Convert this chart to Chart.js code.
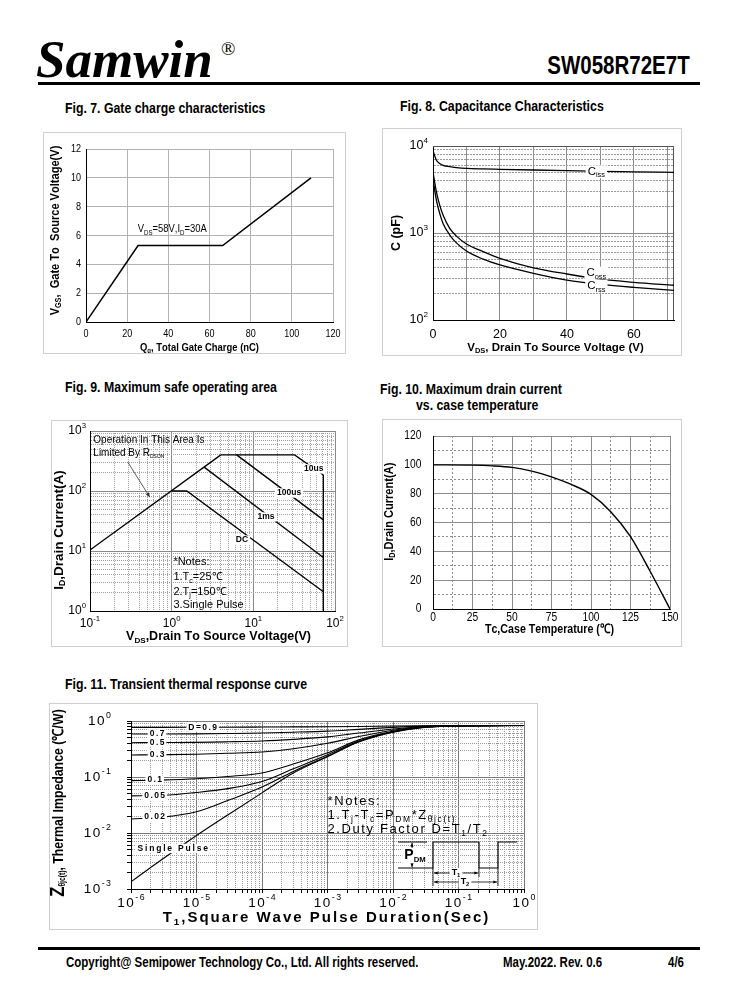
<!DOCTYPE html>
<html>
<head>
<meta charset="utf-8">
<title>SW058R72E7T</title>
<script src="https://cdn.jsdelivr.net/npm/chart.js@4.4.1/dist/chart.umd.min.js"></script>
<style>
  html, body { margin: 0; padding: 0; background: #fff; }
  body { width: 738px; height: 1000px; position: relative; overflow: hidden; color: #000;
         font-family: "Liberation Sans", Arial, sans-serif; }
  .t { position: absolute; white-space: nowrap; line-height: 1; font-weight: bold; }
  .n { transform: scaleX(0.82); transform-origin: 0 0; }
  .nr { transform: scaleX(0.82); transform-origin: 100% 0; }
  .rule { position: absolute; left: 38px; width: 662px; height: 3px; background: #000; }
  canvas { position: absolute; outline: 1px solid #cfcfcf; outline-offset: -1px; }
</style>
</head>
<body>

<div class="t" style="left:36px;top:29px;font:italic bold 53px 'Liberation Serif','Times New Roman',serif;">Samwin</div>
<div class="t" style="left:221px;top:38px;font:normal 19px 'Liberation Serif','Times New Roman',serif;">®</div>
<div class="t nr" style="right:48px;top:53px;font-size:25px;">SW058R72E7T</div>
<div class="rule" style="top:82px"></div>

<div class="t n" style="left:65px;top:100px;font-size:15px;">Fig. 7. Gate charge characteristics</div>
<div class="t n" style="left:400px;top:98px;font-size:15px;">Fig. 8. Capacitance Characteristics</div>
<div class="t n" style="left:65px;top:379px;font-size:15px;">Fig. 9. Maximum safe operating area</div>
<div class="t n" style="left:380px;top:381px;font-size:15px;">Fig. 10. Maximum drain current</div>
<div class="t n" style="left:416px;top:397px;font-size:15px;">vs. case temperature</div>
<div class="t n" style="left:65px;top:676px;font-size:15px;">Fig. 11. Transient thermal response curve</div>

<canvas id="c7" width="303" height="222" style="left:43px;top:132px"></canvas>
<canvas id="c8" width="300" height="228" style="left:382px;top:128px"></canvas>
<canvas id="c9" width="297" height="227" style="left:51px;top:420px"></canvas>
<canvas id="c10" width="300" height="228" style="left:382px;top:419px"></canvas>
<canvas id="c11" width="489" height="227" style="left:49px;top:703px"></canvas>

<div class="rule" style="top:947px"></div>
<div class="t n" style="left:66px;top:955px;font-size:14px;">Copyright@ Semipower Technology Co., Ltd. All rights reserved.</div>
<div class="t n" style="left:503px;top:955px;font-size:14px;">May.2022. Rev. 0.6</div>
<div class="t n" style="left:668px;top:955px;font-size:14px;">4/6</div>

<script>
// ---------------- data ----------------

// Fig.7 gate charge
const gateChargeNc = [0, 25.3, 66.4, 109.3];
const gateVoltage = [0, 5.3, 5.3, 10];
const gateXTicks = [0, 20, 40, 60, 80, 100, 120];
const gateYTicks = [0, 2, 4, 6, 8, 10, 12];

// Fig.8 capacitance
const capVds = [0, 1, 2, 3, 5, 7, 10, 15, 20, 30, 40, 50, 60, 72];
const capCiss = [8800, 6900, 6300, 6000, 5780, 5650, 5530, 5450, 5400, 5300, 5200, 5100, 5050, 4980];
const capCoss = [5000, 2990, 2090, 1610, 1130, 920, 748, 610, 512, 398, 338, 295, 271, 251];
const capCrss = [4200, 2400, 1680, 1290, 948, 770, 621, 500, 429, 344, 288, 257, 237, 219];
const capXTicks = [0, 10, 20, 30, 40, 50, 60, 70];
const capXLabels = ['0', '', '20', '', '40', '', '60', ''];
const capDecades = [2, 3, 4];

// Fig.9 safe operating area
const soaRdsVds = [0.1, 4];
const soaRdsId = [10.4, 400];
const soa10usVds = [4, 32, 72, 72];
const soa10usId = [400, 400, 185, 1];
const soa100usVds = [6.25, 72];
const soa100usId = [400, 33];
const soa1msVds = [2.5, 72];
const soa1msId = [250, 7.8];
const soaDcVds = [1, 1.53, 72];
const soaDcId = [100, 100, 2.1];
const soaXDecades = [-1, 0, 1, 2];
const soaYDecades = [0, 1, 2, 3];

// Fig.10 drain current vs case temperature
const caseTempC = [0, 25, 37.5, 50, 62.5, 75, 87.5, 100, 112.5, 125, 137.5, 150];
const drainCurrentA = [100, 99.8, 99.3, 98.2, 95.6, 91.7, 86.4, 79.5, 67.5, 50.2, 26, 0];
const tempTicks = [0, 12.5, 25, 37.5, 50, 62.5, 75, 87.5, 100, 112.5, 125, 137.5, 150];
const currentTicks = [0, 10, 20, 30, 40, 50, 60, 70, 80, 90, 100, 110, 120];

// Fig.11 transient thermal impedance
const pulseSec = [1e-6, 3e-6, 1e-5, 3e-5, 1e-4, 3e-4, 1e-3, 3e-3, 1e-2, 3e-2, 1e-1, 1];
const zthD09 = [0.77, 0.77, 0.772, 0.775, 0.78, 0.785, 0.79, 0.80, 0.815, 0.825, 0.83, 0.83];
const zthD07 = [0.586, 0.587, 0.59, 0.598, 0.61, 0.63, 0.66, 0.71, 0.77, 0.81, 0.825, 0.83];
const zthD05 = [0.41, 0.412, 0.415, 0.425, 0.44, 0.47, 0.52, 0.61, 0.72, 0.80, 0.825, 0.83];
const zthD03 = [0.247, 0.25, 0.255, 0.265, 0.28, 0.32, 0.40, 0.53, 0.685, 0.79, 0.82, 0.83];
const zthD01 = [0.086, 0.088, 0.093, 0.102, 0.118, 0.17, 0.27, 0.46, 0.655, 0.78, 0.82, 0.83];
const zthD005 = [0.046, 0.047, 0.053, 0.062, 0.083, 0.14, 0.25, 0.44, 0.645, 0.78, 0.82, 0.83];
const zthD002 = [0.0178, 0.0192, 0.024, 0.038, 0.066, 0.126, 0.235, 0.43, 0.64, 0.775, 0.82, 0.83];
const zthSingle = [0.00135, 0.0034, 0.009, 0.021, 0.052, 0.118, 0.23, 0.42, 0.63, 0.77, 0.82, 0.83];
const dutyNames = ['D=0.9', '0.7', '0.5', '0.3', '0.1', '0.05', '0.02'];
const dutyLabelSec = [1.24e-5, 2.5e-6, 2.5e-6, 2.5e-6, 2.3e-6, 2.3e-6, 2.3e-6];
const dutyLabelZth = [0.772, 0.587, 0.412, 0.25, 0.088, 0.047, 0.0192];
const zthXDecades = [-6, -5, -4, -3, -2, -1, 0];
const zthYDecades = [-3, -2, -1, 0];

// ---------------- helpers ----------------
const SANS = '"Liberation Sans", Arial, Helvetica, sans-serif';
const NX = 0.82; // horizontal squeeze used for the narrow lettering

Chart.defaults.font.family = SANS;
Chart.defaults.color = '#000';
Chart.defaults.animation = false;
Chart.defaults.events = [];
Chart.defaults.plugins.legend.display = false;
Chart.defaults.plugins.tooltip.enabled = false;

function isDecade(v) {
  const l = Math.log10(v);
  return Math.abs(l - Math.round(l)) < 1e-9;
}

function logTicks(decades) {
  const out = [];
  for (let i = 0; i < decades.length - 1; i++) {
    for (let m = 1; m <= 9; m++) out.push(m * Math.pow(10, decades[i]));
  }
  out.push(Math.pow(10, decades[decades.length - 1]));
  return out;
}

const logFmt = v => isDecade(v) ? ['10', [String(Math.round(Math.log10(v))), 'sup']] : null;

function pts(xs, ys) {
  return xs.map((x, i) => ({ x: x, y: ys[i] }));
}

function line(xs, ys, extra) {
  return Object.assign({ data: pts(xs, ys), borderColor: '#000', borderWidth: 1.3,
    pointRadius: 0, tension: 0, fill: false }, extra || {});
}

// text with sub/superscripts; runs: 'text' or [text, 'sub'|'sup'|'', sizeFactor]
function drawRich(ctx, runs, x, y, o) {
  o = o || {};
  const size = o.size || 11, fam = o.family || SANS, wt = o.weight || 'normal', sp = o.spacing || 0;
  const parts = runs.map(r => {
    const t = typeof r === 'string' ? r : r[0];
    const k = typeof r === 'string' ? '' : r[1];
    const s = (k === 'sub' || k === 'sup') ? size * (o.small || 0.65) : size * ((typeof r !== 'string' && r[2]) || 1);
    const dy = k === 'sub' ? size * 0.3 : (k === 'sup' ? -size * 0.4 : 0);
    return { t: t, s: s, dy: dy, w: 0 };
  });
  ctx.save();
  ctx.translate(x, y);
  if (o.rotate) ctx.rotate(o.rotate);
  if (o.sx) ctx.scale(o.sx, 1);
  ctx.textBaseline = 'middle';
  ctx.textAlign = 'left';
  let total = 0;
  parts.forEach(p => {
    ctx.font = wt + ' ' + p.s + 'px ' + fam;
    for (const ch of p.t) p.w += ctx.measureText(ch).width + sp;
    total += p.w;
  });
  total -= sp;
  let cx = o.align === 'left' ? 0 : (o.align === 'right' ? -total : -total / 2);
  if (o.bg) {
    ctx.fillStyle = o.bg;
    ctx.fillRect(cx - 2, -size * 0.55, total + 4, size * 1.1);
  }
  ctx.fillStyle = o.color || '#000';
  parts.forEach(p => {
    ctx.font = wt + ' ' + p.s + 'px ' + fam;
    for (const ch of p.t) {
      ctx.fillText(ch, cx, p.dy);
      cx += ctx.measureText(ch).width + sp;
    }
  });
  ctx.restore();
}

// tick labels placed on the library's scale pixels
function tickLabels(chart, id, o) {
  const s = chart.scales[id], a = chart.chartArea;
  s.ticks.forEach((t, i) => {
    const runs = o.fmt(t.value, i);
    if (!runs) return;
    const p = s.getPixelForValue(t.value);
    if (id === 'x') drawRich(chart.ctx, runs, p, a.bottom + o.off, Object.assign({}, o, { align: 'center' }));
    else drawRich(chart.ctx, runs, a.left - o.off, p, Object.assign({}, o, { align: 'right' }));
  });
}

function arrowHead(ctx, x, y, ang, len) {
  ctx.beginPath();
  ctx.moveTo(x, y);
  ctx.lineTo(x - len * Math.cos(ang - 0.4), y - len * Math.sin(ang - 0.4));
  ctx.lineTo(x - len * Math.cos(ang + 0.4), y - len * Math.sin(ang + 0.4));
  ctx.closePath();
  ctx.fill();
}

// axis with fixed size, custom tick list, major/minor grid
function axis(o) {
  const minor = v => !!o.isMinor && o.isMinor(v);
  return {
    type: o.type || 'linear',
    min: o.min, max: o.max,
    afterBuildTicks: s => { s.ticks = o.ticks.map(v => ({ value: v })); },
    afterFit: s => { if (o.horizontal) s.height = o.size; else s.width = o.size; },
    ticks: { display: false, autoSkip: false, maxRotation: 0, minRotation: 0 },
    grid: {
      color: c => (c.tick && minor(c.tick.value)) ? (o.minorColor || '#999') : (o.majorColor || '#888'),
      lineWidth: 1,
      drawTicks: !!o.tickLength, tickLength: o.tickLength || 0, tickColor: '#000', tickWidth: 1
    },
    border: {
      color: o.axisColor || '#000', width: 1,
      dash: c => (c.tick && minor(c.tick.value)) ? (o.minorDash || [1, 1]) : []
    }
  };
}

function decor(d) {
  return {
    id: 'decor',
    beforeDatasetsDraw(chart) {
      if (!d.frame) return;
      const a = chart.chartArea, ctx = chart.ctx;
      ctx.save();
      ctx.strokeStyle = d.frame;
      ctx.lineWidth = 1;
      ctx.beginPath();
      ctx.moveTo(a.left, Math.round(a.top) + 0.5);
      ctx.lineTo(Math.round(a.right) - 0.5, Math.round(a.top) + 0.5);
      ctx.lineTo(Math.round(a.right) - 0.5, a.bottom);
      ctx.stroke();
      ctx.restore();
    },
    afterDatasetsDraw(chart) {
      const ctx = chart.ctx, x = chart.scales.x, y = chart.scales.y;
      (d.labels || []).forEach(l => drawRich(ctx, l.runs, x.getPixelForValue(l.x), y.getPixelForValue(l.y), l.style));
      if (d.extra) d.extra(chart);
    },
    afterDraw(chart) {
      const ctx = chart.ctx, a = chart.chartArea;
      if (d.tickX) tickLabels(chart, 'x', d.tickX);
      if (d.tickY) tickLabels(chart, 'y', d.tickY);
      if (d.xTitle) drawRich(ctx, d.xTitle.runs, (a.left + a.right) / 2 + (d.xTitle.dx || 0), a.bottom + d.xTitle.dy, d.xTitle.style);
      if (d.yTitle) drawRich(ctx, d.yTitle.runs, d.yTitle.x, (a.top + a.bottom) / 2 + (d.yTitle.dy || 0),
        Object.assign({ rotate: -Math.PI / 2 }, d.yTitle.style));
    }
  };
}

// ---------------- Fig.7 ----------------
new Chart(document.getElementById('c7'), {
  type: 'line',
  data: { datasets: [line(gateChargeNc, gateVoltage, { borderWidth: 1.5 })] },
  options: {
    responsive: false,
    layout: { padding: { left: 0, top: 17, right: 13, bottom: 0 } },
    scales: {
      x: axis({ horizontal: true, min: 0, max: 120, ticks: gateXTicks, size: 32, majorColor: '#b3b3b3' }),
      y: axis({ min: 0, max: 12, ticks: gateYTicks, size: 43, majorColor: '#b3b3b3' })
    }
  },
  plugins: [decor({
    labels: [{ x: 41.9, y: 6.44, runs: ['V', ['DS', 'sub'], '=58V,I', ['D', 'sub'], '=30A'],
      style: { size: 11.5, sx: NX } }],
    tickX: { off: 12.3, size: 11, sx: NX, fmt: v => [String(v)] },
    tickY: { off: 5, size: 11, sx: NX, fmt: v => [String(v)] },
    xTitle: { runs: ['Q', ['g', 'sub'], ', Total Gate Charge (nC)'], dy: 25.5, dx: -10,
      style: { size: 11.5, weight: 'bold', sx: NX } },
    yTitle: { runs: ['V', ['GS', 'sub'], ',  Gate To  Source Voltage(V)'], x: 12, dy: -5,
      style: { size: 13.5, weight: 'bold', sx: NX } }
  })]
});

// ---------------- Fig.8 ----------------
const capSmooth = { cubicInterpolationMode: 'monotone', borderWidth: 1.3 };
new Chart(document.getElementById('c8'), {
  type: 'line',
  data: { datasets: [
    line(capVds, capCiss, capSmooth),
    line(capVds, capCoss, capSmooth),
    line(capVds, capCrss, capSmooth)
  ] },
  options: {
    responsive: false,
    layout: { padding: { left: 0, top: 18, right: 8, bottom: 0 } },
    scales: {
      x: axis({ horizontal: true, min: 0, max: 72, ticks: capXTicks, size: 36, majorColor: '#8c8c8c' }),
      y: axis({ type: 'logarithmic', min: 100, max: 10000, ticks: logTicks(capDecades), size: 51,
        isMinor: v => !isDecade(v), majorColor: '#8c8c8c', minorColor: '#9a9a9a', minorDash: [2, 1] })
    }
  },
  plugins: [decor({
    frame: '#555',
    labels: [
      { x: 48.8, y: 5060, runs: ['C', ['iss', 'sub']], style: { size: 11.5, bg: '#fff' } },
      { x: 48.8, y: 347, runs: ['C', ['oss', 'sub']], style: { size: 11.5, bg: '#fff' } },
      { x: 48.8, y: 245, runs: ['C', ['rss', 'sub']], style: { size: 11.5, bg: '#fff' } }
    ],
    tickX: { off: 15, size: 12.5, fmt: (v, i) => capXLabels[i] ? [capXLabels[i]] : null },
    tickY: { off: 5, size: 12.5, fmt: logFmt },
    xTitle: { runs: ['V', ['DS', 'sub'], ', Drain To Source Voltage (V)'], dy: 27.5, dx: 2,
      style: { size: 11.5, weight: 'bold' } },
    yTitle: { runs: ['C (pF)'], x: 14.5, dy: 0, style: { size: 12.5, weight: 'bold' } }
  })]
});

// ---------------- Fig.9 ----------------
new Chart(document.getElementById('c9'), {
  type: 'line',
  data: { datasets: [
    line(soaRdsVds, soaRdsId),
    line(soa10usVds, soa10usId),
    line(soa100usVds, soa100usId),
    line(soa1msVds, soa1msId),
    line(soaDcVds, soaDcId)
  ] },
  options: {
    responsive: false,
    layout: { padding: { left: 0, top: 11, right: 13, bottom: 0 } },
    scales: {
      x: axis({ horizontal: true, type: 'logarithmic', min: 0.1, max: 100, ticks: logTicks(soaXDecades), size: 36,
        isMinor: v => !isDecade(v), majorColor: '#8a8a8a', minorColor: '#a0a0a0', minorDash: [1, 1] }),
      y: axis({ type: 'logarithmic', min: 1, max: 1000, ticks: logTicks(soaYDecades), size: 39,
        isMinor: v => !isDecade(v), majorColor: '#8a8a8a', minorColor: '#a0a0a0', minorDash: [1, 1] })
    }
  },
  plugins: [decor({
    labels: [
      { x: 0.1098, y: 708, runs: ['Operation In This Area Is'], style: { size: 10, align: 'left' } },
      { x: 0.1098, y: 425, runs: ['Limited By R', ['DSON', 'sub']], style: { size: 10, align: 'left', small: 0.5 } },
      { x: 55, y: 233, runs: ['10us'], style: { size: 8.5, weight: 'bold', bg: '#fff' } },
      { x: 27.4, y: 92.6, runs: ['100us'], style: { size: 8.5, weight: 'bold', bg: '#fff' } },
      { x: 14.3, y: 36.9, runs: ['1ms'], style: { size: 8.5, weight: 'bold', bg: '#fff' } },
      { x: 7.26, y: 15.2, runs: ['DC'], style: { size: 8.5, weight: 'bold', bg: '#fff' } },
      { x: 1.05, y: 6.63, runs: ['*Notes:'], style: { size: 11, align: 'left' } },
      { x: 1.05, y: 3.64, runs: ['1.T', ['c', 'sub'], '=25℃'], style: { size: 11, align: 'left' } },
      { x: 1.05, y: 2.1, runs: ['2.T', ['j', 'sub'], '=150℃'], style: { size: 11, align: 'left' } },
      { x: 1.05, y: 1.26, runs: ['3.Single Pulse'], style: { size: 11, align: 'left' } }
    ],
    extra(chart) {
      const ctx = chart.ctx, x = chart.scales.x, y = chart.scales.y;
      const x1 = x.getPixelForValue(0.29), y1 = y.getPixelForValue(304);
      const x2 = x.getPixelForValue(0.54), y2 = y.getPixelForValue(79);
      ctx.save();
      ctx.strokeStyle = '#333'; ctx.fillStyle = '#333'; ctx.lineWidth = 0.8;
      ctx.beginPath(); ctx.moveTo(x1, y1); ctx.lineTo(x2, y2); ctx.stroke();
      arrowHead(ctx, x2, y2, Math.atan2(y2 - y1, x2 - x1), 5);
      ctx.restore();
    },
    tickX: { off: 12.5, size: 12, fmt: logFmt },
    tickY: { off: 4, size: 12, fmt: logFmt },
    xTitle: { runs: ['V', ['DS', 'sub'], ',Drain To Source Voltage(V)'], dy: 25.7, dx: 6,
      style: { size: 12.5, weight: 'bold' } },
    yTitle: { runs: ['I', ['D', 'sub'], ',Drain Current(A)'], x: 8, dy: 9, style: { size: 13.5, weight: 'bold' } }
  })]
});

// ---------------- Fig.10 ----------------
new Chart(document.getElementById('c10'), {
  type: 'line',
  data: { datasets: [line(caseTempC, drainCurrentA, { cubicInterpolationMode: 'monotone', borderWidth: 1.4 })] },
  options: {
    responsive: false,
    layout: { padding: { left: 0, top: 17, right: 12, bottom: 0 } },
    scales: {
      x: axis({ horizontal: true, min: 0, max: 150, ticks: tempTicks, size: 38, isMinor: v => v % 25 !== 0,
        majorColor: '#8c8c8c', minorColor: '#8c8c8c', minorDash: [2, 2] }),
      y: axis({ min: 0, max: 120, ticks: currentTicks, size: 51, isMinor: v => v % 20 !== 0,
        majorColor: '#8c8c8c', minorColor: '#8c8c8c', minorDash: [2, 2] })
    }
  },
  plugins: [decor({
    tickX: { off: 9, size: 12.5, sx: NX, fmt: v => (v % 25 === 0 ? [String(v)] : null) },
    tickY: { off: 11.6, size: 12.5, sx: NX, fmt: v => (v % 20 === 0 ? [String(v)] : null) },
    xTitle: { runs: ['Tc,Case Temperature (℃)'], dy: 20, dx: -2, style: { size: 13, weight: 'bold', sx: NX } },
    yTitle: { runs: ['I', ['D', 'sub'], ',Drain Current(A)'], x: 7, dy: -10.8,
      style: { size: 13.5, weight: 'bold', sx: NX } }
  })]
});

// ---------------- Fig.11 ----------------
const zthSmooth = { cubicInterpolationMode: 'monotone', borderWidth: 1.1 };
const zthSeries = [zthD09, zthD07, zthD05, zthD03, zthD01, zthD005, zthD002, zthSingle];
const dutyLabels = dutyNames.map((n, i) => ({
  x: dutyLabelSec[i], y: dutyLabelZth[i], runs: [n],
  style: { size: 8.5, weight: 'bold', spacing: 1.4, bg: '#fff' }
}));
dutyLabels.push({ x: 1.26e-6, y: 0.0053, runs: ['Single Pulse'],
  style: { size: 8.5, weight: 'bold', spacing: 1.8, bg: '#fff', align: 'left' } });
const noteStyle = { size: 13, spacing: 1.6, align: 'left' };
dutyLabels.push({ x: 1e-3, y: 0.0365, runs: ['*Notes:'], style: noteStyle });
dutyLabels.push({ x: 1e-3, y: 0.0205, runs: ['1.T', ['j', 'sub'], '-T', ['c', 'sub'], '=P', ['DM', 'sub'], '*Z', ['θjc(t)', 'sub']], style: noteStyle });
dutyLabels.push({ x: 1e-3, y: 0.01155, runs: ['2.Duty Factor D=T', ['1', 'sub'], '/T', ['2', 'sub']], style: noteStyle });

new Chart(document.getElementById('c11'), {
  type: 'line',
  data: { datasets: zthSeries.map(s => line(pulseSec, s, zthSmooth)) },
  options: {
    responsive: false,
    layout: { padding: { left: 0, top: 18, right: 14, bottom: 0 } },
    scales: {
      x: axis({ horizontal: true, type: 'logarithmic', min: 1e-6, max: 1, ticks: logTicks(zthXDecades), size: 41,
        tickLength: 4, isMinor: v => !isDecade(v), majorColor: '#7a7a7a', minorColor: '#999', minorDash: [1, 1] }),
      y: axis({ type: 'logarithmic', min: 1e-3, max: 1, ticks: logTicks(zthYDecades), size: 82,
        tickLength: 4, isMinor: v => !isDecade(v), majorColor: '#7a7a7a', minorColor: '#999', minorDash: [1, 1] })
    }
  },
  plugins: [decor({
    labels: dutyLabels,
    extra(chart) {
      // P_DM pulse sketch inset
      const ctx = chart.ctx, a = chart.chartArea;
      const X = v => a.left + v, Y = v => a.top + v;
      ctx.save();
      ctx.strokeStyle = '#000'; ctx.fillStyle = '#000'; ctx.lineWidth = 1.2;
      ctx.beginPath();
      ctx.moveTo(X(267), Y(147)); ctx.lineTo(X(302), Y(147)); ctx.lineTo(X(302), Y(121));
      ctx.lineTo(X(348), Y(121)); ctx.lineTo(X(348), Y(147)); ctx.lineTo(X(367), Y(147));
      ctx.lineTo(X(367), Y(121)); ctx.lineTo(X(386), Y(121));
      ctx.moveTo(X(267), Y(121)); ctx.lineTo(X(296), Y(121));
      ctx.stroke();
      ctx.lineWidth = 0.8;
      ctx.beginPath();
      ctx.moveTo(X(281), Y(122)); ctx.lineTo(X(281), Y(146));
      ctx.moveTo(X(302), Y(147)); ctx.lineTo(X(302), Y(165));
      ctx.moveTo(X(348), Y(147)); ctx.lineTo(X(348), Y(156));
      ctx.moveTo(X(367), Y(147)); ctx.lineTo(X(367), Y(165));
      ctx.moveTo(X(303), Y(152)); ctx.lineTo(X(347), Y(152));
      ctx.moveTo(X(303), Y(161)); ctx.lineTo(X(366), Y(161));
      ctx.stroke();
      arrowHead(ctx, X(281), Y(122), -Math.PI / 2, 4);
      arrowHead(ctx, X(281), Y(146), Math.PI / 2, 4);
      arrowHead(ctx, X(303), Y(152), Math.PI, 4);
      arrowHead(ctx, X(347), Y(152), 0, 4);
      arrowHead(ctx, X(303), Y(161), Math.PI, 4);
      arrowHead(ctx, X(366), Y(161), 0, 4);
      ctx.restore();
      drawRich(ctx, ['P', ['DM', 'sub']], X(284), Y(134.5), { size: 14, weight: 'bold', bg: '#fff', small: 0.55 });
      drawRich(ctx, ['T', ['1', 'sub']], X(325), Y(152), { size: 9, weight: 'bold', bg: '#fff' });
      drawRich(ctx, ['T', ['2', 'sub']], X(334), Y(161), { size: 9, weight: 'bold', bg: '#fff' });
    },
    tickX: { off: 14, size: 13.5, spacing: 1.5, fmt: logFmt },
    tickY: { off: 20, size: 13.5, spacing: 1.5, fmt: logFmt },
    xTitle: { runs: ['T', ['1', 'sub'], ',Square Wave Pulse Duration(Sec)'], dy: 29, dx: -2,
      style: { size: 15, weight: 'bold', spacing: 2 } },
    yTitle: { runs: [['Z', '', 1.35], ['θjc(t)', 'sub'], ', Thermal Impedance (℃/W)'], x: 9.5, dy: -2,
      style: { size: 15, weight: 'bold', sx: NX, small: 0.55 } }
  })]
});
</script>
</body>
</html>
